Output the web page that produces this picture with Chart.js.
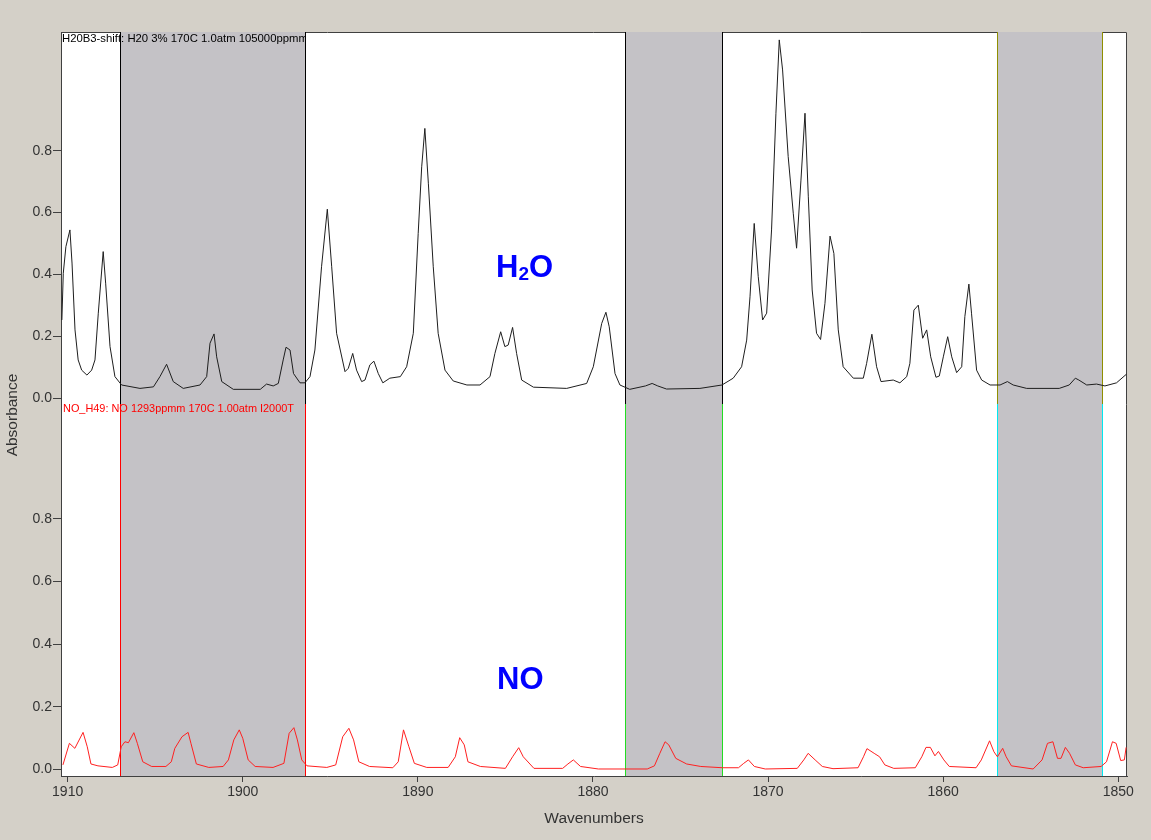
<!DOCTYPE html>
<html>
<head>
<meta charset="utf-8">
<script src="https://cdn.jsdelivr.net/npm/chart.js@4.4.0/dist/chart.umd.min.js"></script>
<style>
  html, body { margin: 0; padding: 0; background: #d4d0c8; }
  #wrap { width: 1151px; height: 840px; }
</style>
</head>
<body>
<div id="wrap"><canvas id="c" width="1151" height="840"></canvas></div>
<script>
// ---------------- DATA ----------------
const xTickValues = [1910, 1900, 1890, 1880, 1870, 1860, 1850];
const yTickValues = [0.0, 0.2, 0.4, 0.6, 0.8];

// shaded wavenumber windows
const regionStarts = [1907.0, 1878.16, 1856.93];
const regionEnds   = [1896.45, 1872.63, 1850.93];

// H2O spectrum (top panel)
const h2oWn = [
  1910.33,1910.25,1910.10,1909.87,1909.75,1909.58,1909.40,1909.20,1908.90,1908.63,
  1908.44,1908.25,1907.97,1907.83,1907.58,1907.30,1906.92,1905.87,1905.10,1904.73,
  1904.35,1903.97,1903.40,1902.44,1902.06,1901.87,1901.64,1901.49,1901.20,1900.54,
  1899.00,1898.64,1898.26,1897.97,1897.69,1897.53,1897.30,1897.10,1896.73,1896.45,
  1896.16,1895.88,1895.50,1895.17,1894.92,1894.64,1894.16,1893.97,1893.72,1893.50,
  1893.21,1893.02,1892.74,1892.51,1892.26,1892.00,1891.60,1891.00,1890.64,1890.26,
  1889.98,1889.78,1889.60,1889.40,1889.12,1888.84,1888.45,1887.98,1887.20,1886.45,
  1885.88,1885.60,1885.27,1885.03,1884.84,1884.59,1884.36,1884.07,1883.40,1881.50,
  1880.36,1879.98,1879.50,1879.26,1879.07,1878.74,1878.46,1877.90,1877.00,1876.62,
  1876.30,1875.80,1873.89,1872.63,1871.99,1871.51,1871.22,1871.03,1870.79,1870.56,
  1870.31,1870.08,1869.80,1869.55,1869.36,1869.17,1868.85,1868.56,1868.37,1868.12,
  1867.89,1867.70,1867.48,1867.23,1867.00,1866.75,1866.46,1866.24,1865.99,1865.71,
  1865.13,1864.56,1864.37,1864.07,1863.80,1863.55,1862.85,1862.47,1862.08,1861.90,
  1861.67,1861.42,1861.17,1860.94,1860.71,1860.41,1860.22,1859.99,1859.74,1859.51,
  1859.23,1858.94,1858.76,1858.53,1858.38,1858.09,1857.80,1857.32,1856.75,1856.33,
  1856.00,1855.23,1853.37,1852.80,1852.45,1852.25,1851.80,1851.24,1850.76,1850.10,
  1849.53
];
const h2oAbs = [
  0.253,0.404,0.490,0.544,0.437,0.221,0.124,0.091,0.075,0.091,
  0.124,0.275,0.474,0.372,0.167,0.070,0.043,0.032,0.037,0.070,
  0.110,0.054,0.032,0.043,0.070,0.178,0.208,0.134,0.054,0.029,
  0.029,0.046,0.040,0.048,0.124,0.165,0.156,0.080,0.050,0.050,
  0.070,0.156,0.425,0.611,0.425,0.210,0.086,0.097,0.145,0.091,
  0.054,0.059,0.108,0.120,0.080,0.050,0.065,0.070,0.102,0.210,
  0.533,0.748,0.872,0.695,0.425,0.210,0.091,0.056,0.043,0.043,
  0.070,0.145,0.215,0.167,0.172,0.229,0.145,0.059,0.036,0.032,
  0.048,0.102,0.242,0.278,0.231,0.080,0.043,0.029,0.040,0.048,
  0.040,0.030,0.032,0.043,0.065,0.102,0.188,0.328,0.565,0.393,
  0.253,0.275,0.544,0.921,1.158,1.061,0.781,0.598,0.485,0.705,
  0.921,0.651,0.350,0.210,0.190,0.307,0.524,0.468,0.221,0.102,
  0.065,0.065,0.113,0.207,0.102,0.054,0.059,0.050,0.070,0.113,
  0.285,0.301,0.194,0.221,0.134,0.068,0.072,0.134,0.199,0.134,
  0.083,0.102,0.264,0.369,0.275,0.091,0.059,0.043,0.043,0.054,
  0.043,0.032,0.032,0.043,0.065,0.059,0.043,0.046,0.040,0.050,
  0.078
];

// NO spectrum (bottom panel)
const noWn = [
  1910.27,1909.90,1909.59,1909.12,1908.88,1908.67,1908.27,1907.45,1907.14,1906.94,
  1906.73,1906.53,1906.22,1906.02,1905.71,1905.20,1904.39,1904.08,1903.88,1903.47,
  1903.12,1902.96,1902.65,1901.94,1901.12,1900.82,1900.51,1900.20,1900.00,1899.69,
  1899.29,1898.27,1897.65,1897.35,1897.08,1896.88,1896.63,1896.33,1895.20,1894.69,
  1894.29,1893.94,1893.67,1893.37,1892.76,1891.43,1891.12,1890.82,1890.51,1890.20,
  1889.49,1888.27,1887.86,1887.61,1887.35,1887.14,1886.43,1885.00,1884.59,1884.24,
  1883.98,1883.37,1881.73,1881.43,1881.12,1880.71,1879.69,1876.90,1876.49,1876.18,
  1875.88,1875.67,1875.27,1874.65,1873.84,1872.61,1871.69,1871.39,1871.12,1870.78,
  1870.16,1868.33,1867.96,1867.71,1867.31,1866.90,1866.29,1864.86,1864.55,1864.35,
  1863.94,1863.63,1863.33,1862.82,1861.59,1861.22,1860.98,1860.73,1860.47,1860.27,
  1859.96,1859.65,1858.12,1857.82,1857.35,1857.10,1856.90,1856.60,1856.40,1856.10,
  1854.86,1854.35,1854.04,1853.73,1853.47,1853.27,1853.02,1852.78,1852.45,1852.00,
  1850.98,1850.67,1850.33,1850.12,1849.86,1849.65,1849.55
];
const noAbs = [
  0.014,0.083,0.067,0.118,0.072,0.017,0.011,0.006,0.014,0.072,
  0.088,0.085,0.117,0.083,0.024,0.009,0.009,0.024,0.067,0.104,
  0.118,0.083,0.017,0.006,0.009,0.030,0.094,0.126,0.099,0.030,
  0.009,0.006,0.019,0.115,0.133,0.094,0.030,0.011,0.006,0.014,
  0.104,0.131,0.094,0.024,0.009,0.005,0.024,0.126,0.072,0.019,
  0.006,0.006,0.040,0.101,0.078,0.024,0.009,0.003,0.040,0.069,
  0.040,0.003,0.003,0.017,0.030,0.009,0.001,0.001,0.011,0.051,
  0.088,0.078,0.035,0.017,0.009,0.005,0.005,0.019,0.030,0.009,
  0.001,0.003,0.030,0.051,0.030,0.009,0.002,0.005,0.040,0.066,
  0.051,0.040,0.014,0.003,0.005,0.040,0.070,0.070,0.043,0.057,
  0.030,0.009,0.005,0.030,0.091,0.056,0.040,0.067,0.040,0.011,
  0.001,0.030,0.083,0.088,0.035,0.035,0.070,0.051,0.014,0.005,
  0.009,0.024,0.088,0.083,0.028,0.030,0.070
];

const topLabel = 'H20B3-shift: H20 3% 170C 1.0atm 105000ppmm';
const bottomLabel = 'NO_H49: NO 1293ppmm 170C 1.00atm I2000T';

// axis ranges
const X_MAX = 1910.38, X_MIN = 1849.50;
const TOP_MIN = -0.0184, TOP_MAX = 1.1835;
const BOT_MIN = -0.0214, BOT_MAX = 1.167;

// ---------------- CHART ----------------
const FONT = '"Liberation Sans", Arial, sans-serif';
const h2oData = h2oWn.map((w, i) => ({ x: w, y: h2oAbs[i] }));
const noData = noWn.map((w, i) => ({ x: w, y: noAbs[i] }));

const decorPlugin = {
  id: 'decor',
  beforeDraw(chart) {
    const { ctx, chartArea: a, scales } = chart;
    const xs = scales.x, yt = scales.yTop, yb = scales.yBot;
    ctx.save();
    ctx.fillStyle = '#d4d0c8';
    ctx.fillRect(0, 0, chart.width, chart.height);
    ctx.fillStyle = '#ffffff';
    ctx.fillRect(a.left, a.top, a.right - a.left, a.bottom - a.top);
    // frame (top + right)
    ctx.strokeStyle = '#404040';
    ctx.lineWidth = 1;
    ctx.beginPath();
    ctx.moveTo(a.left, a.top + 0.5);
    ctx.lineTo(a.right - 0.5, a.top + 0.5);
    ctx.lineTo(a.right - 0.5, a.bottom);
    ctx.stroke();
    // shaded regions
    const topCols = ['#000000', '#000000', '#8f8f00'];
    const botCols = ['#ff0000', '#22dd22', '#00e8f0'];
    for (let i = 0; i < regionStarts.length; i++) {
      const x1 = Math.round(xs.getPixelForValue(regionStarts[i]));
      const x2 = Math.round(xs.getPixelForValue(regionEnds[i]));
      ctx.fillStyle = '#c4c2c6';
      ctx.fillRect(x1, a.top, x2 - x1, a.bottom - a.top);
      [x1, x2].forEach(px => {
        ctx.strokeStyle = topCols[i];
        ctx.beginPath();
        ctx.moveTo(px + 0.5, a.top);
        ctx.lineTo(px + 0.5, yt.bottom);
        ctx.stroke();
        ctx.strokeStyle = botCols[i];
        ctx.beginPath();
        ctx.moveTo(px + 0.5, yb.top);
        ctx.lineTo(px + 0.5, a.bottom);
        ctx.stroke();
      });
    }
    ctx.restore();
  },
  afterDraw(chart) {
    const { ctx, chartArea: a, scales } = chart;
    const xs = scales.x, yt = scales.yTop, yb = scales.yBot;
    ctx.save();
    const fitText = (txt, w, size) => {
      ctx.font = size + 'px ' + FONT;
      const m = ctx.measureText(txt).width;
      return size * w / m;
    };
    // top dataset label (clipped at end of first window)
    ctx.save();
    ctx.beginPath();
    ctx.rect(a.left, a.top, xs.getPixelForValue(regionEnds[0]) - a.left, 40);
    ctx.clip();
    ctx.fillStyle = '#000000';
    ctx.textBaseline = 'top';
    ctx.textAlign = 'left';
    ctx.font = fitText(topLabel, 246, 11).toFixed(2) + 'px ' + FONT;
    ctx.fillText(topLabel, a.left + 1, a.top + 1);
    ctx.restore();

    // bottom dataset label
    ctx.fillStyle = '#ff0000';
    ctx.textBaseline = 'middle';
    ctx.textAlign = 'left';
    ctx.font = fitText(bottomLabel, 231, 11).toFixed(2) + 'px ' + FONT;
    ctx.fillText(bottomLabel, a.left + 2, yb.top + 5);

    // species labels
    ctx.fillStyle = '#0000ff';
    ctx.textBaseline = 'alphabetic';
    ctx.font = 'bold 31px ' + FONT;
    let x = 496, y = 277;
    ctx.fillText('H', x, y);
    x += ctx.measureText('H').width;
    ctx.font = 'bold 19px ' + FONT;
    ctx.fillText('2', x, y + 3);
    x += ctx.measureText('2').width;
    ctx.font = 'bold 31px ' + FONT;
    ctx.fillText('O', x, y);
    ctx.fillText('NO', 497, 689);

    // y-axis title
    ctx.fillStyle = '#333333';
    ctx.font = '15.5px ' + FONT;
    ctx.textAlign = 'center';
    ctx.textBaseline = 'middle';
    ctx.translate(13, 415);
    ctx.rotate(-Math.PI / 2);
    ctx.fillText('Absorbance', 0, 0);
    ctx.restore();
  }
};

const yAxis = (min, max) => ({
  type: 'linear',
  position: 'left',
  stack: 'abs',
  stackWeight: 1,
  min: min,
  max: max,
  afterBuildTicks: s => { s.ticks = yTickValues.map(v => ({ value: v })); },
  afterFit: s => { s.width = 61; },
  ticks: {
    callback: v => Number(v).toFixed(1),
    font: { family: FONT, size: 14 },
    color: '#333333',
    padding: 1
  },
  grid: { drawOnChartArea: false, drawTicks: true, tickLength: 8, color: '#404040' },
  border: { display: true, color: '#404040' }
});

new Chart(document.getElementById('c'), {
  type: 'line',
  data: {
    datasets: [
      { label: 'H2O', data: h2oData, xAxisID: 'x', yAxisID: 'yTop',
        borderColor: '#1e1e1e', borderWidth: 1, pointRadius: 0, tension: 0, fill: false },
      { label: 'NO', data: noData, xAxisID: 'x', yAxisID: 'yBot',
        borderColor: '#ff2020', borderWidth: 1, pointRadius: 0, tension: 0, fill: false }
    ]
  },
  options: {
    responsive: false,
    animation: false,
    layout: { padding: { top: 32, right: 24, left: 0, bottom: 0 } },
    plugins: { legend: { display: false }, tooltip: { enabled: false }, title: { display: false } },
    scales: {
      x: {
        type: 'linear',
        reverse: true,
        min: X_MIN,
        max: X_MAX,
        afterBuildTicks: s => { s.ticks = xTickValues.map(v => ({ value: v })); },
        afterFit: s => { s.height = 64; },
        ticks: {
          callback: v => String(v),
          font: { family: FONT, size: 14 },
          color: '#333333',
          padding: 2,
          maxRotation: 0,
          autoSkip: false
        },
        grid: { drawOnChartArea: false, drawTicks: true, tickLength: 6, color: '#404040' },
        border: { display: true, color: '#404040' },
        title: {
          display: true,
          text: 'Wavenumbers',
          font: { family: FONT, size: 15.5 },
          color: '#333333',
          padding: { top: 0, bottom: 12 }
        }
      },
      yBot: yAxis(BOT_MIN, BOT_MAX),
      yTop: yAxis(TOP_MIN, TOP_MAX)
    }
  },
  plugins: [decorPlugin]
});
</script>
</body>
</html>
